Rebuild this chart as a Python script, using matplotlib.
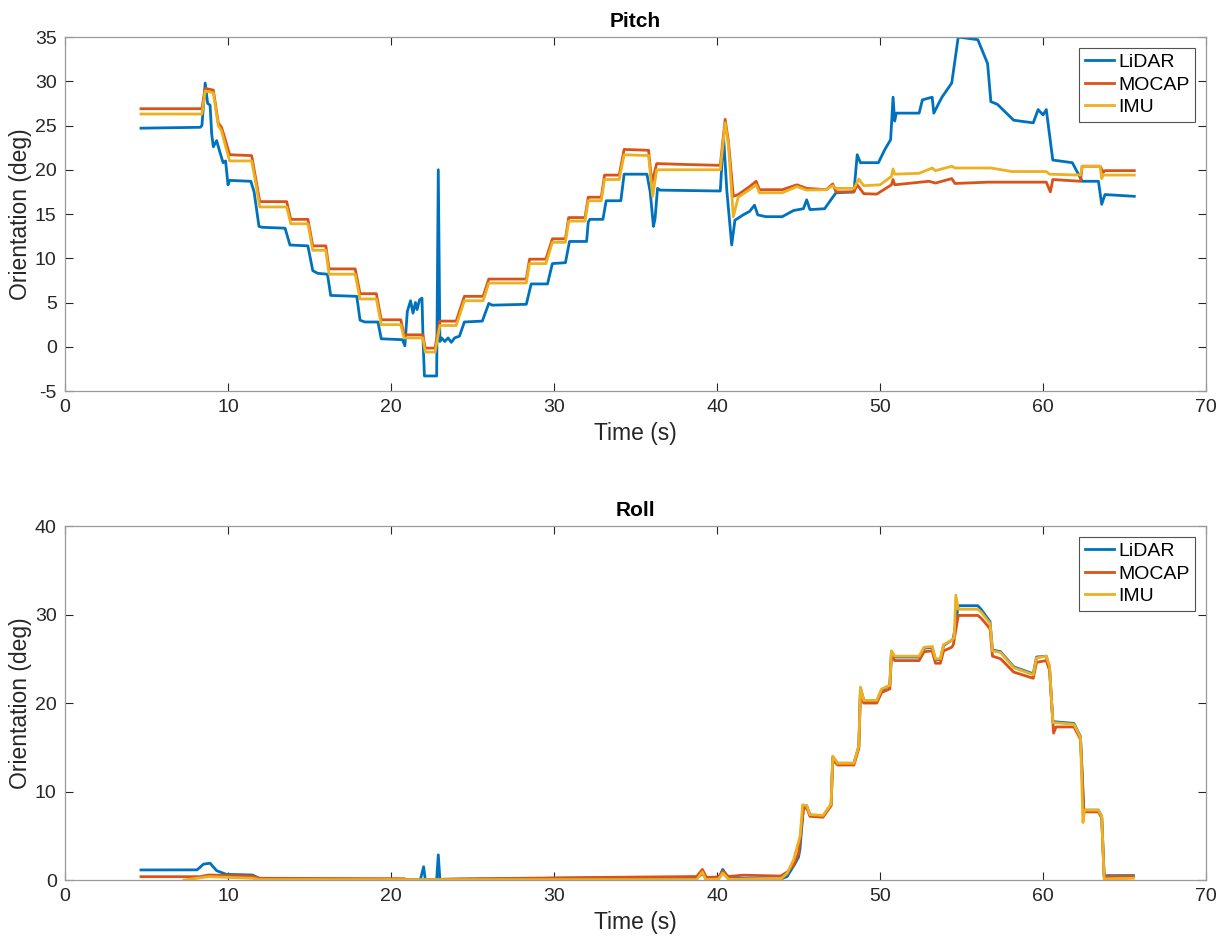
import matplotlib
matplotlib.use("Agg")
import matplotlib.pyplot as plt
import numpy as np

plt.rcParams['font.family'] = ['Liberation Sans', 'DejaVu Sans']
plt.rcParams['axes.unicode_minus'] = False

# ---- Pitch data (time s, deg) ----
pitch_lidar_t = [4.66, 8.3, 8.4, 8.6, 8.75, 8.9, 9.0, 9.1, 9.3, 9.5, 9.7, 9.85, 10.0, 10.1, 11.4, 11.6, 11.9,
                 12.1, 13.5, 13.8, 14.9, 15.2, 15.5, 16.1, 16.3, 17.9, 18.1, 18.4, 19.2, 19.4, 20.7, 20.85,
                 21.0, 21.2, 21.35, 21.5, 21.6, 21.75, 21.9, 21.97, 22.05, 22.8, 22.9, 23.0, 23.1, 23.3, 23.5,
                 23.7, 23.9, 24.2, 24.5, 25.6, 26.0, 26.2, 28.3, 28.6, 29.6, 29.9, 30.7, 30.95, 32.0, 32.1,
                 32.2, 33.0, 33.2, 34.1, 34.3, 35.7, 35.9, 36.1, 36.2, 36.35, 36.5, 40.2, 40.4, 40.6, 40.9,
                 41.1, 41.6, 42.0, 42.3, 42.5, 43.0, 44.0, 44.7, 45.3, 45.5, 45.7, 46.6, 47.1, 47.3, 48.4,
                 48.6, 48.8, 49.9, 50.3, 50.65, 50.8, 50.9, 51.0, 52.4, 52.6, 53.2, 53.3, 53.6, 53.8, 54.4,
                 54.8, 56.0, 56.6, 56.8, 57.2, 58.2, 59.4, 59.7, 60.0, 60.2, 60.6, 61.8, 62.4, 63.4, 63.6,
                 63.8, 65.6]
pitch_lidar = [24.7, 24.8, 25.0, 29.8, 27.5, 27.3, 24.0, 22.6, 23.3, 22.0, 20.8, 21.0, 18.3, 18.8, 18.7, 17.5,
               13.6, 13.5, 13.4, 11.5, 11.4, 8.6, 8.3, 8.2, 5.8, 5.7, 3.0, 2.8, 2.8, 0.9, 0.8, 0.1,
               4.0, 5.2, 3.8, 5.0, 4.2, 5.3, 5.5, 0.5, -3.3, -3.3, 20.0, 0.6, 1.0, 0.6, 1.0,
               0.5, 1.0, 1.2, 2.8, 2.9, 4.9, 4.7, 4.8, 7.1, 7.1, 9.4, 9.5, 11.9, 11.9, 14.1,
               14.4, 14.4, 16.5, 16.5, 19.5, 19.5, 17.5, 13.6, 14.5, 17.9, 17.7, 17.6, 23.8, 17.7, 11.5,
               14.3, 14.9, 15.3, 16.0, 14.9, 14.7, 14.7, 15.4, 15.6, 16.6, 15.5, 15.6, 16.9, 17.4, 17.5,
               21.7, 20.8, 20.8, 22.3, 23.4, 28.2, 25.5, 26.4, 26.4, 27.9, 28.2, 26.4, 27.5, 28.2, 29.8,
               35.0, 34.7, 32.0, 27.7, 27.4, 25.6, 25.3, 26.8, 26.2, 26.8, 21.1, 20.8, 18.7, 18.7, 16.1,
               17.2, 17.0]

pitch_mocap_t = [4.66, 8.4, 8.6, 9.1, 9.4, 9.6, 9.8, 10.1, 11.45, 11.7, 11.95, 13.6, 13.85, 14.9, 15.2, 16.0,
                 16.2, 17.8, 18.1, 19.1, 19.4, 20.6, 20.8, 21.95, 22.1, 22.7, 23.0, 24.0, 24.5, 25.65, 26.0,
                 28.3, 28.5, 29.5, 29.9, 30.7, 30.9, 31.9, 32.1, 32.9, 33.1, 34.0, 34.3, 35.8, 36.0, 36.3,
                 38.0, 40.2, 40.5, 40.7, 41.0, 41.3, 42.0, 42.4, 42.6, 44.0, 44.9, 45.5, 46.7, 47.1, 47.3,
                 48.4, 48.6, 49.0, 49.8, 50.7, 50.8, 50.9, 53.0, 53.4, 54.4, 54.6, 56.6, 60.2, 60.45, 60.6,
                 62.3, 62.4, 63.5, 63.7, 63.8, 65.6]
pitch_mocap = [26.9, 26.9, 29.2, 29.0, 25.3, 24.8, 23.6, 21.7, 21.6, 19.0, 16.4, 16.4, 14.4, 14.4, 11.4, 11.4,
               8.8, 8.8, 6.0, 6.0, 3.05, 3.05, 1.35, 1.35, -0.15, -0.15, 2.9, 2.9, 5.7, 5.7, 7.65,
               7.65, 9.9, 9.9, 12.2, 12.2, 14.6, 14.6, 16.9, 16.9, 19.4, 19.4, 22.3, 22.2, 18.5, 20.7,
               20.6, 20.5, 25.7, 23.2, 17.0, 17.2, 18.1, 18.7, 17.75, 17.75, 18.3, 17.9, 17.75, 18.4, 17.5,
               17.5, 18.3, 17.3, 17.25, 18.3, 18.9, 18.3, 18.7, 18.5, 19.0, 18.45, 18.6, 18.6, 17.5, 18.9,
               18.7, 20.4, 20.4, 19.7, 19.9, 19.9]

pitch_imu_t = [4.66, 8.4, 8.6, 9.1, 9.4, 9.6, 9.8, 10.1, 11.45, 11.7, 11.95, 13.6, 13.85, 14.9, 15.2, 16.0,
               16.2, 17.8, 18.1, 19.1, 19.4, 20.6, 20.8, 21.95, 22.1, 22.7, 23.0, 24.0, 24.5, 25.65, 26.0,
               28.3, 28.5, 29.5, 29.9, 30.7, 30.9, 31.9, 32.1, 32.9, 33.1, 34.0, 34.3, 35.8, 36.05, 36.3,
               40.2, 40.5, 40.7, 41.0, 41.3, 42.0, 42.4, 42.6, 44.0, 44.9, 45.5, 46.7, 47.1, 47.3, 48.4,
               48.7, 49.0, 50.0, 50.7, 50.8, 50.9, 52.4, 53.2, 53.4, 54.4, 54.6, 56.8, 58.1, 60.2, 60.4,
               62.3, 62.4, 63.5, 63.6, 63.7, 65.6]
pitch_imu = [26.3, 26.3, 28.9, 28.7, 25.0, 24.4, 23.0, 21.0, 21.0, 18.5, 15.8, 15.8, 13.9, 13.9, 10.9, 10.9,
             8.2, 8.2, 5.4, 5.4, 2.5, 2.5, 1.0, 1.0, -0.6, -0.6, 2.4, 2.4, 5.2, 5.2, 7.2,
             7.2, 9.4, 9.4, 11.8, 11.8, 14.2, 14.2, 16.5, 16.5, 18.9, 18.9, 21.7, 21.6, 17.0, 20.0,
             20.0, 25.3, 22.8, 14.7, 16.9, 17.75, 18.3, 17.4, 17.4, 18.1, 17.7, 17.75, 18.2, 17.9, 17.9,
             18.95, 18.2, 18.3, 19.25, 20.1, 19.5, 19.6, 20.2, 19.9, 20.4, 20.2, 20.2, 19.8, 19.8, 19.5,
             19.4, 20.4, 20.4, 19.0, 19.4, 19.4]

# ---- Roll data (time s, deg) ----
roll_lidar_t = [4.66, 8.1, 8.5, 8.9, 9.3, 9.9, 11.5, 11.9, 13.0, 21.8, 22.0, 22.1, 22.8, 22.9, 23.0, 24.0,
                33.0, 36.0, 38.8, 39.1, 39.35, 40.1, 40.35, 40.7, 43.9, 44.3, 44.8, 45.0, 45.09, 45.3, 45.5,
                45.7, 46.5, 47.0, 47.1, 47.4, 48.4, 48.7, 48.8, 49.0, 49.8, 50.1, 50.6, 50.7, 50.9, 52.4,
                52.7, 53.2, 53.4, 53.7, 53.9, 54.4, 54.5, 54.8, 56.0, 56.2, 56.75, 56.9, 57.4, 58.2, 59.4,
                59.6, 60.2, 60.4, 60.6, 61.9, 62.3, 62.5, 63.4, 63.6, 63.75, 65.55]
roll_lidar = [1.14, 1.15, 1.8, 1.9, 1.06, 0.64, 0.57, 0.2, 0.1, 0.05, 1.5, 0.05, 0.05, 2.85, 0.05, 0.1,
              0.25, 0.3, 0.3, 0.7, 0.2, 0.2, 1.2, 0.2, 0.1, 0.4, 1.9, 2.6, 3.5, 8.3, 8.4,
              7.35, 7.2, 8.5, 13.9, 13.2, 13.2, 15.1, 21.7, 20.3, 20.2, 21.5, 22.0, 25.8, 25.2, 25.2,
              26.2, 26.3, 24.9, 24.9, 26.5, 27.1, 27.3, 31.0, 31.0, 30.6, 29.2, 26.0, 25.8, 24.1, 23.3,
              25.2, 25.3, 24.0, 17.9, 17.7, 16.2, 7.9, 7.9, 7.2, 0.5, 0.5]

roll_mocap_t = [4.66, 8.3, 8.8, 11.5, 11.9, 20.8, 21.0, 23.0, 23.2, 33.0, 35.9, 38.75, 39.1, 39.35, 40.1,
                40.35, 40.7, 41.6, 43.9, 44.3, 44.7, 45.0, 45.3, 45.5, 45.7, 46.5, 47.0, 47.1, 47.4, 48.4,
                48.7, 48.8, 49.0, 49.8, 50.1, 50.6, 50.7, 50.9, 52.4, 52.7, 53.2, 53.4, 53.7, 53.9, 54.4,
                54.5, 54.8, 56.0, 56.2, 56.75, 56.9, 57.4, 58.2, 59.4, 59.6, 60.2, 60.4, 60.65, 60.8, 61.9,
                62.3, 62.5, 63.4, 63.6, 63.75, 65.55]
roll_mocap = [0.38, 0.38, 0.57, 0.45, 0.2, 0.15, 0.02, 0.02, 0.1, 0.3, 0.35, 0.4, 1.2, 0.3, 0.35,
              1.0, 0.4, 0.55, 0.45, 0.9, 1.7, 3.0, 8.0, 8.2, 7.2, 7.1, 8.4, 13.6, 13.0, 13.0,
              14.9, 21.3, 20.0, 20.0, 21.2, 21.6, 25.4, 24.8, 24.8, 25.8, 25.9, 24.5, 24.5, 25.9, 26.3,
              26.6, 29.9, 29.9, 29.6, 28.4, 25.3, 25.0, 23.5, 22.8, 24.6, 24.8, 23.7, 16.6, 17.3, 17.3,
              15.9, 7.7, 7.7, 7.0, 0.4, 0.45]

roll_imu_t = [7.3, 8.8, 11.5, 11.9, 38.75, 39.1, 39.3, 40.1, 40.35, 40.7, 43.9, 44.3, 44.7, 45.1, 45.25,
              45.5, 45.7, 46.5, 47.0, 47.1, 47.4, 48.4, 48.7, 48.8, 49.0, 49.8, 50.1, 50.6, 50.7, 50.9,
              52.4, 52.7, 53.2, 53.4, 53.7, 53.9, 54.4, 54.55, 54.65, 54.8, 56.0, 56.2, 56.75, 56.9, 57.4,
              58.2, 59.4, 59.6, 60.2, 60.4, 60.6, 61.9, 62.3, 62.45, 62.55, 63.4, 63.6, 63.75, 65.55]
roll_imu = [0.0, 0.38, 0.2, 0.05, 0.05, 0.9, 0.05, 0.1, 0.8, 0.1, 0.1, 0.75, 2.3, 5.0, 8.5,
            8.4, 7.4, 7.3, 8.6, 14.0, 13.2, 13.2, 15.2, 21.8, 20.3, 20.3, 21.6, 22.0, 25.9, 25.3,
            25.3, 26.3, 26.4, 25.0, 25.0, 26.6, 27.1, 27.4, 32.2, 30.6, 30.6, 30.3, 29.0, 25.9, 25.7,
            24.0, 23.2, 25.1, 25.3, 24.2, 17.8, 17.6, 16.1, 6.5, 7.9, 7.9, 7.2, 0.1, 0.2]

colors = ['#0072BD', '#D95319', '#EDB120']
names = ['LiDAR', 'MOCAP', 'IMU']

fig = plt.figure(figsize=(12.29, 9.47), dpi=100)
ax1 = fig.add_axes([0.0529, 0.5871, 0.9284, 0.3738])
ax2 = fig.add_axes([0.0529, 0.0707, 0.9284, 0.3738])


def style(ax, title, ylim, yticks):
    ax.set_xlim(0, 70)
    ax.set_ylim(*ylim)
    ax.set_xticks(np.arange(0, 71, 10))
    ax.set_yticks(yticks)
    ax.tick_params(direction='in', top=True, right=True, labelsize=14,
                   colors='#262626', length=6, width=0.8, pad=6)
    for s in ax.spines.values():
        s.set_color('#9a9a9a')
        s.set_linewidth(0.9)
    ax.set_xlabel('Time (s)', fontsize=16.5, color='#262626', labelpad=4)
    ax.set_ylabel('Orientation (deg)', fontsize=16.5, color='#262626', labelpad=2)
    ax.set_title(title, fontsize=15, fontweight='bold', pad=7)
    leg = ax.legend(loc='upper right', fontsize=14, frameon=True, fancybox=False,
                    handlelength=1.5, handletextpad=0.2, borderpad=0.3, labelspacing=0.25,
                    borderaxespad=0.55)
    leg.get_frame().set_edgecolor('#262626')
    leg.get_frame().set_linewidth(0.8)


for t, v, c, n in zip([pitch_lidar_t, pitch_mocap_t, pitch_imu_t],
                      [pitch_lidar, pitch_mocap, pitch_imu], colors, names):
    ax1.plot(t, v, color=c, lw=2.0, label=n)
style(ax1, 'Pitch', (-5, 35), np.arange(-5, 36, 5))

for t, v, c, n in zip([roll_lidar_t, roll_mocap_t, roll_imu_t],
                      [roll_lidar, roll_mocap, roll_imu], colors, names):
    ax2.plot(t, v, color=c, lw=2.0, label=n)
style(ax2, 'Roll', (0, 40), np.arange(0, 41, 10))

fig.savefig('out.png', dpi=100)
